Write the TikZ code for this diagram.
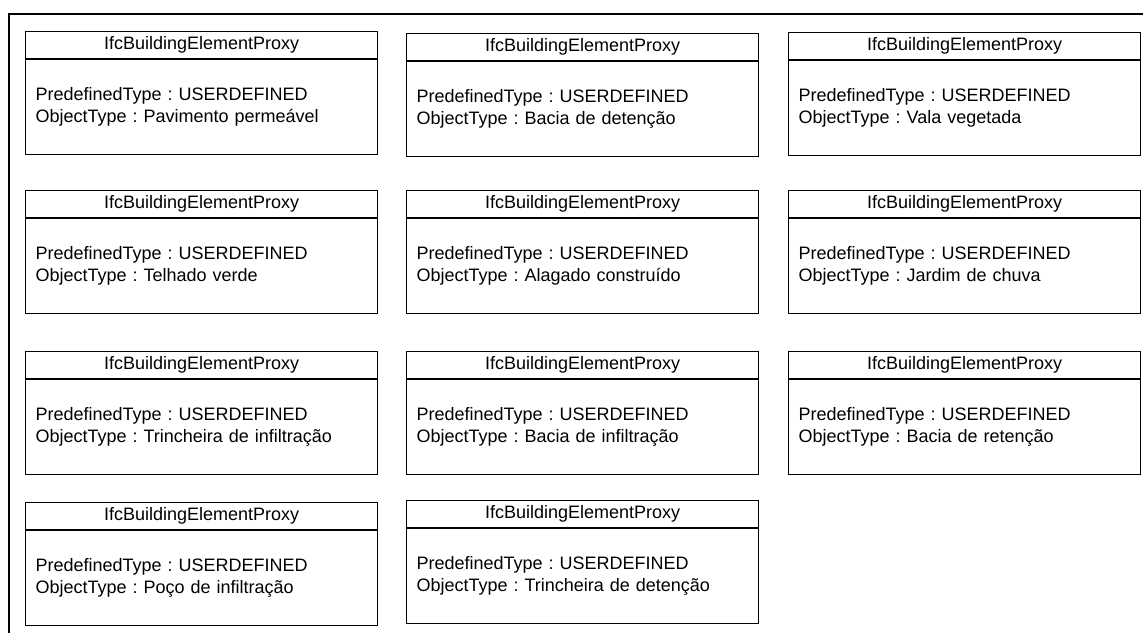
\documentclass[tikz,border=0pt]{standalone}
\usepackage{fontspec}
\setmainfont{Liberation Sans}
\usetikzlibrary{positioning}
\frenchspacing

\begin{document}
\begin{tikzpicture}[x=1pt, y=-1pt, font=\fontsize{18}{22}\selectfont, line width=1.1pt,
  head/.style={draw, rectangle, anchor=north west, minimum width=352pt, minimum height=27pt, inner sep=0pt},
  body/.style={draw, rectangle, below=0pt of #1, text width=332pt, inner xsep=10pt, inner ysep=0pt, minimum height=95pt, align=left},
  frame/.style={line width=1.5pt}]
\useasboundingbox (0,0) rectangle (1143,633);
\draw[frame] (9,633) -- (9,14) -- (1143,14);
% row 1
\node[head] (pav) at (25,31) {IfcBuildingElementProxy};
\node[body=pav] (pav-b) {PredefinedType : USERDEFINED\\ObjectType : Pavimento permeável};
\node[head] (bdet) at (406,33) {IfcBuildingElementProxy};
\node[body=bdet] (bdet-b) {PredefinedType : USERDEFINED\\ObjectType : Bacia de detenção};
\node[head] (vala) at (788,32) {IfcBuildingElementProxy};
\node[body=vala] (vala-b) {PredefinedType : USERDEFINED\\ObjectType : Vala vegetada};
% row 2
\node[head] (telh) at (25,190) {IfcBuildingElementProxy};
\node[body=telh] (telh-b) {PredefinedType : USERDEFINED\\ObjectType : Telhado verde};
\node[head] (alag) at (406,190) {IfcBuildingElementProxy};
\node[body=alag] (alag-b) {PredefinedType : USERDEFINED\\ObjectType : Alagado construído};
\node[head] (jard) at (788,190) {IfcBuildingElementProxy};
\node[body=jard] (jard-b) {PredefinedType : USERDEFINED\\ObjectType : Jardim de chuva};
% row 3
\node[head] (tinf) at (25,351) {IfcBuildingElementProxy};
\node[body=tinf] (tinf-b) {PredefinedType : USERDEFINED\\ObjectType : Trincheira de infiltração};
\node[head] (binf) at (406,351) {IfcBuildingElementProxy};
\node[body=binf] (binf-b) {PredefinedType : USERDEFINED\\ObjectType : Bacia de infiltração};
\node[head] (bret) at (788,351) {IfcBuildingElementProxy};
\node[body=bret] (bret-b) {PredefinedType : USERDEFINED\\ObjectType : Bacia de retenção};
% row 4
\node[head] (poco) at (25,502) {IfcBuildingElementProxy};
\node[body=poco] (poco-b) {PredefinedType : USERDEFINED\\ObjectType : Poço de infiltração};
\node[head] (tdet) at (406,500) {IfcBuildingElementProxy};
\node[body=tdet] (tdet-b) {PredefinedType : USERDEFINED\\ObjectType : Trincheira de detenção};
\end{tikzpicture}
\end{document}
